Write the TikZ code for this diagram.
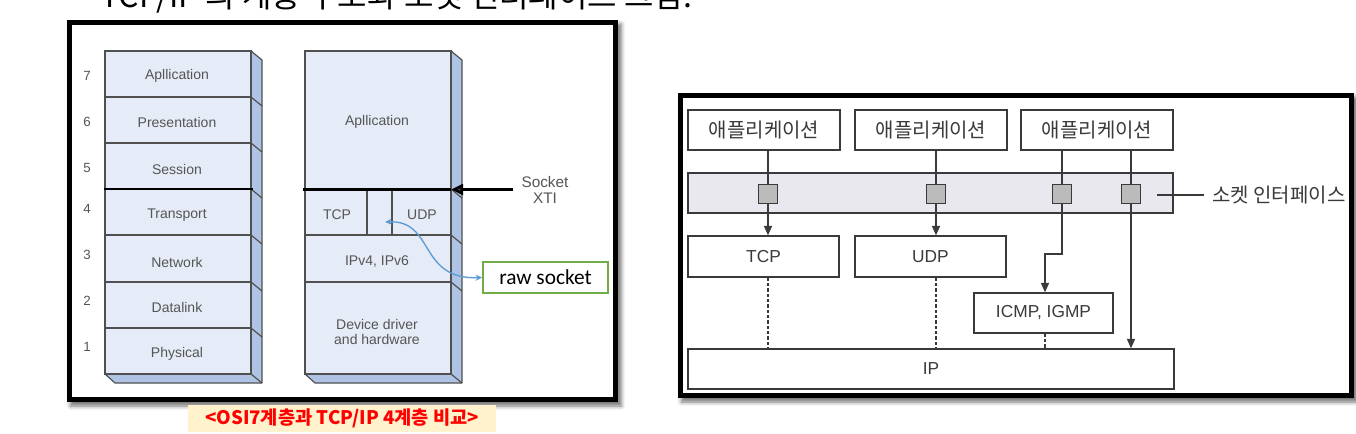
\documentclass[tikz,border=0pt]{standalone}
\usepackage{fontspec}
\setmainfont{Liberation Sans}
\newfontfamily\kr{Noto Sans CJK KR}
\newfontfamily\carlito{Carlito}
\usetikzlibrary{arrows.meta,shadows.blur}
\definecolor{facecol}{HTML}{E6ECF7}
\definecolor{sidecol}{HTML}{AFC4E4}
\definecolor{edgegray}{HTML}{505050}
\definecolor{txtgray}{HTML}{555555}
\definecolor{boxdark}{HTML}{3A3A3A}
\definecolor{bandcol}{HTML}{E8E8EE}
\definecolor{sqcol}{HTML}{BBBBBB}
\definecolor{bluearr}{HTML}{5B9BD5}
\definecolor{greenbox}{HTML}{70AD47}
\definecolor{capbg}{HTML}{FFF2CC}
\definecolor{capred}{HTML}{FF0000}
\tikzset{
  face/.style={draw=edgegray, fill=facecol, line width=0.9pt},
  sideface/.style={draw=edgegray, fill=sidecol, line width=0.9pt, line join=round},
  edge/.style={draw=edgegray, line width=0.9pt},
  lbl/.style={text=txtgray, font=\fontsize{10.5}{12}\selectfont, inner sep=0pt},
  numlbl/.style={text=txtgray, font=\fontsize{10}{12}\selectfont, inner sep=0pt},
  frame/.style={draw=black, line width=3.8pt},
  shadowed/.style={fill=white, blur shadow={shadow xshift=2.5pt, shadow yshift=-3pt, shadow blur radius=3pt, shadow opacity=55}},
  box/.style={draw=boxdark, line width=1.1pt, fill=white, inner sep=0pt, text=boxdark},
  krtext/.style={font=\kr\fontsize{15}{17}\selectfont},
  entext/.style={font=\fontsize{13}{15}\selectfont},
  sqbox/.style={draw=boxdark, line width=1.1pt, fill=sqcol, minimum size=14pt, inner sep=0pt},
  conn/.style={draw=boxdark, line width=1.1pt},
  arr/.style={conn, -{Triangle[length=7pt,width=6pt]}},
  dashconn/.style={draw=boxdark, line width=0.9pt, dash pattern=on 2.5pt off 1.5pt}
}
\begin{document}
\begin{tikzpicture}[x=0.75pt,y=-0.75pt]
\useasboundingbox (0,0) rectangle (1356,433);
% partially visible heading
\begin{scope}
\clip (0,0) rectangle (1356,433);
\node[anchor=base west, font=\kr\fontsize{24}{24}\selectfont, inner sep=0pt] (heading) at (100,7) {TCP/IP 의 계층 구조와 소켓 인터페이스 그림.};
\end{scope}

% ---------- left panel ----------
\path[shadowed] (67,20) rectangle (618,402);
\draw[frame] (69.5,22.5) rectangle (615.5,399.5);

% OSI stack side faces
\path[sideface] (251,51) -- (262,60) -- (262,383) -- (115,383) -- (105,374) -- (251,374) -- cycle;
\draw[edge] (251,374) -- (262,383);
\draw[face] (105,51) rectangle (251,374);
\foreach \y in {97,143,189,235,282,328} {
  \draw[edge] (105,\y) -- (251,\y);
  \draw[edge] (251,\y) -- (262,\y+9);
}
\draw[line width=2.2pt] (104,189) -- (253,189);
\node[lbl] (o7) at (177,76) {Apllication};
\node[lbl] (o6) at (177,122) {Presentation};
\node[lbl] (o5) at (177,169) {Session};
\node[lbl] (o4) at (177,215) {Transport};
\node[lbl] (o3) at (177,262) {Network};
\node[lbl] (o2) at (177,307) {Datalink};
\node[lbl] (o1) at (177,354) {Physical};
\node[numlbl] (n7) at (87,76) {7};
\node[numlbl] (n6) at (87,122) {6};
\node[numlbl] (n5) at (87,168) {5};
\node[numlbl] (n4) at (87,209) {4};
\node[numlbl] (n3) at (87,255) {3};
\node[numlbl] (n2) at (87,301) {2};
\node[numlbl] (n1) at (87,347) {1};

% TCP/IP stack
\path[sideface] (451,51) -- (462,60) -- (462,383) -- (315,383) -- (305,374) -- (451,374) -- cycle;
\draw[edge] (451,374) -- (462,383);
\draw[face] (305,51) rectangle (451,374);
\foreach \y in {189,235,282} {
  \draw[edge] (305,\y) -- (451,\y);
  \draw[edge] (451,\y) -- (462,\y+9);
}
\draw[edge] (367,189) -- (367,235);
\draw[edge] (392,189) -- (392,235);
\draw[line width=2.2pt] (303,189.5) -- (451,189.5);
\node[lbl] (tapp) at (377,122) {Apllication};
\node[lbl] (ttcp) at (337,215) {TCP};
\node[lbl] (tudp) at (422,215) {UDP};
\node[lbl] (tip) at (377,262) {IPv4, IPv6};
\node[lbl, align=center, font=\fontsize{10.5}{11.5}\selectfont] (tdev) at (377,332) {Device driver\\and hardware};
\node[lbl, align=center, font=\fontsize{11.5}{12}\selectfont] (sockxti) at (545,189.5) {Socket\\XTI};
\coordinate (sockstart) at (513,189.5);
\coordinate (socktip) at (451,189.5);
\draw[line width=2pt, -{Triangle[length=9pt,width=8pt]}] (sockstart) -- (socktip);

% raw socket
\node[draw=greenbox, line width=1.2pt, fill=white, minimum width=93.75pt, minimum height=23.25pt, inner sep=0pt,
      font=\carlito\fontsize{16}{18}\selectfont] (raw) at (545.5,277.5) {raw socket};
\coordinate (gap) at (385,222);
\draw[draw=bluearr, line width=1pt, {Stealth[length=5pt,width=4.5pt]}-{Stealth[length=5pt,width=4.5pt]}]
  (gap) .. controls (435,220) and (418,280) .. (raw.west);

% caption
\node[fill=capbg, minimum width=231pt, minimum height=20.25pt, inner sep=0pt, text=capred,
      font=\kr\bfseries\fontsize{14}{15}\selectfont] (caption) at (342,418.5) {<OSI7계층과 TCP/IP 4계층 비교>};

% ---------- right panel ----------
\path[shadowed] (678,93) rectangle (1354,398);
\draw[frame] (680.5,95.5) rectangle (1351.5,395.5);

\node[box, krtext, minimum width=114pt, minimum height=30pt] (app1) at (764,130) {애플리케이션};
\node[box, krtext, minimum width=114pt, minimum height=30pt] (app2) at (931,130) {애플리케이션};
\node[box, krtext, minimum width=114pt, minimum height=30pt] (app3) at (1097,130) {애플리케이션};
\node[box, fill=bandcol, minimum width=363.75pt, minimum height=30pt] (band) at (930.5,193) {};
\node[sqbox] (sq1) at (768,194) {};
\node[sqbox] (sq2) at (936,194) {};
\node[sqbox] (sq3) at (1062,194) {};
\node[sqbox] (sq4) at (1131,194) {};
\node[box, entext, minimum width=113.25pt, minimum height=30.75pt] (tcp) at (763.5,256.5) {TCP};
\node[box, entext, minimum width=113.25pt, minimum height=30.75pt] (udp) at (930.5,256.5) {UDP};
\node[box, entext, minimum width=104.25pt, minimum height=30pt] (icmp) at (1043.5,313) {ICMP, IGMP};
\node[box, entext, minimum width=364.5pt, minimum height=30pt] (ip) at (931,369) {IP};

\draw[conn] (sq1 |- app1.south) -- (sq1.north);
\draw[arr] (sq1.south) -- (sq1 |- tcp.north);
\draw[conn] (sq2 |- app2.south) -- (sq2.north);
\draw[arr] (sq2.south) -- (sq2 |- udp.north);
\draw[conn] (sq3 |- app3.south) -- (sq3.north);
\draw[conn] (sq4 |- app3.south) -- (sq4.north);
\coordinate (bend) at (1045,254);
\draw[arr] (sq3.south) -- (sq3 |- bend) -- (bend) -- (bend |- icmp.north);
\draw[arr] (sq4.south) -- (sq4 |- ip.north);
\draw[dashconn] (sq1 |- tcp.south) -- (sq1 |- ip.north);
\draw[dashconn] (sq2 |- udp.south) -- (sq2 |- ip.north);
\draw[dashconn] (bend |- icmp.south) -- (bend |- ip.north);

\node[krtext, text=boxdark, anchor=west, inner sep=0pt] (silbl) at (1212,195) {소켓 인터페이스};
\coordinate (sistart) at (1157,195);
\draw[conn] (sistart) -- ([xshift=-6pt]silbl.west);
\end{tikzpicture}
\end{document}
